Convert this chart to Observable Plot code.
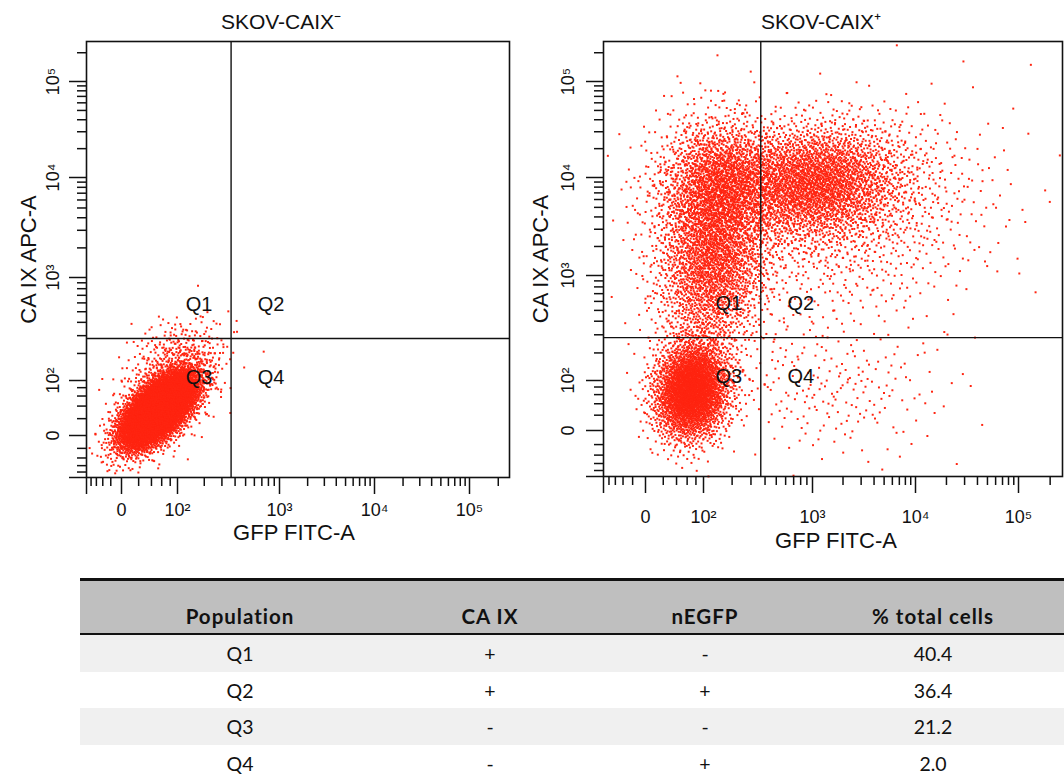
<!DOCTYPE html>
<html>
<head>
<meta charset="utf-8">
<script src="https://cdn.jsdelivr.net/npm/d3@7"></script>
<script src="https://cdn.jsdelivr.net/npm/@observablehq/plot@0.6"></script>
<style>
  body { margin: 0; background: #fff; }
  #wrap { position: relative; width: 1064px; height: 779px; overflow: hidden; background: #fff; }
  #wrap svg { position: absolute; left: 0; top: 0; }
  #tbl { position: absolute; left: 80px; top: 578px; border-collapse: collapse; table-layout: fixed;
         font-family: Lato, "Open Sans", sans-serif; font-size: 19.5px; color: #111; }
  #tbl th { background: #bfbfbf; font-weight: bold; font-size: 20.5px; letter-spacing: 1px; height: 47px; vertical-align: bottom; padding: 0 0 5px 0;
            border-top: 3px solid #111; border-bottom: 2px solid #111; text-align: center; }
  #tbl td { height: 36.7px; padding: 0; text-align: center; vertical-align: middle; }
  #tbl tr.odd td { background: #f0f0f0; }
</style>
</head>
<body>
<div id="wrap"></div>
<script>
// ---------- axis definitions (biexponential display) ----------
const breaks = [-100, 0, 100, 1000, 10000, 100000, 262144];
const majorTicks = [-100, 0, 100, 1000, 10000, 100000];
const tickValues = [0, 100, 1000, 10000, 100000];
const tickLabels = ["0", "10²", "10³", "10⁴", "10⁵"];
const minorTicks = [-80, -60, -40, -20, 20, 40, 60, 80,
  200, 300, 400, 500, 600, 700, 800, 900,
  2000, 3000, 4000, 5000, 6000, 7000, 8000, 9000,
  20000, 30000, 40000, 50000, 60000, 70000, 80000, 90000, 200000];

// ---------- gates ----------
const gateFITC = 367;
const gateAPC = 282;
const quadrantNames = ["Q1", "Q2", "Q3", "Q4"];

// ---------- SKOV-CAIX- event populations (centres in data units, spreads in decades) ----------
const negCentreFITC = [53, 70, 94];
const negCentreAPC = [33, 61, 191];
const negSpreadFITC = [0.19, 0.28, 0.25];
const negSpreadAPC = [0.18, 0.28, 0.20];
const negCorr = [0.62, 0.5, 0.3];
const negCount = [8000, 700, 220];

// ---------- SKOV-CAIX+ event populations ----------
const posCentreFITC = [70, 130, 153, 92, 1000, 2366, 1508];
const posCentreAPC = [70, 1400, 9325, 5865, 8800, 3679, 70];
const posSpreadFITC = [0.18, 0.27, 0.27, 0.30, 0.45, 0.72, 0.58];
const posSpreadAPC = [0.25, 0.50, 0.30, 0.50, 0.30, 0.55, 0.35];
const posCorr = [0.1, 0.15, 0.1, 0.0, 0.1, 0.2, 0.0];
const posCount = [2800, 2200, 1200, 600, 2800, 900, 220];

// ---------- table ----------
const tableHeaders = ["Population", "CA IX", "nEGFP", "% total cells"];
const tablePopulation = ["Q1", "Q2", "Q3", "Q4"];
const tableCAIX = ["+", "+", "-", "-"];
const tableNEGFP = ["-", "+", "-", "+"];
const tablePercent = ["40.4", "36.4", "21.2", "2.0"];

// ---------- helpers ----------
function halton(i, b) { let f = 1, r = 0; while (i > 0) { f /= b; r += f * (i % b); i = Math.floor(i / b); } return r; }
function qnorm(p) {
  const a = [-3.969683028665376e+01, 2.209460984245205e+02, -2.759285104469687e+02, 1.383577518672690e+02, -3.066479806614716e+01, 2.506628277459239e+00];
  const b = [-5.447609879822406e+01, 1.615858368580409e+02, -1.556989798598866e+02, 6.680131188771972e+01, -1.328068155288572e+01];
  const c = [-7.784894002430293e-03, -3.223964580411365e-01, -2.400758277161838e+00, -2.549732539343734e+00, 4.374664141464968e+00, 2.938163982698783e+00];
  const d = [7.784695709041462e-03, 3.224671290700398e-01, 2.445134137142996e+00, 3.754408661907416e+00];
  const pl = 0.02425, ph = 1 - pl;
  if (p < pl) { const q = Math.sqrt(-2 * Math.log(p)); return (((((c[0]*q+c[1])*q+c[2])*q+c[3])*q+c[4])*q+c[5]) / ((((d[0]*q+d[1])*q+d[2])*q+d[3])*q+1); }
  if (p > ph) { const q = Math.sqrt(-2 * Math.log(1 - p)); return -(((((c[0]*q+c[1])*q+c[2])*q+c[3])*q+c[4])*q+c[5]) / ((((d[0]*q+d[1])*q+d[2])*q+d[3])*q+1); }
  const q = p - 0.5, r = q * q;
  return (((((a[0]*r+a[1])*r+a[2])*r+a[3])*r+a[4])*r+a[5])*q / (((((b[0]*r+b[1])*r+b[2])*r+b[3])*r+b[4])*r+1);
}
function events(cx, cy, sdx, sdy, rho, n, sx, sy) {
  const dX = sx.apply(1e4) - sx.apply(1e3);
  const dY = sy.apply(1e3) - sy.apply(1e4);
  const out = [];
  let k = 1;
  for (let c = 0; c < cx.length; c++) {
    const px0 = sx.apply(cx[c]), py0 = sy.apply(cy[c]);
    for (let j = 0; j < n[c]; j++, k++) {
      const z1 = qnorm(halton(k, 2)), z2 = qnorm(halton(k, 3));
      const px = px0 + sdx[c] * dX * z1;
      const py = py0 - sdy[c] * dY * (rho[c] * z1 + Math.sqrt(1 - rho[c] * rho[c]) * z2);
      const x = sx.invert(px), y = sy.invert(py);
      if (x > breaks[0] && x < breaks[6] && y > breaks[0] && y < breaks[6]) out.push({x, y});
    }
  }
  return out;
}

function quadText(name, dx, dy) {
  return Plot.text([name], {x: () => gateFITC, y: () => gateAPC, text: d => d, dx, dy,
    fontSize: 20, fill: "#111", lineAnchor: "middle", textAnchor: "middle"});
}

function panel(p) {
  const xo = {type: "symlog", constant: 50, domain: breaks, range: p.xr};
  const yo = {type: "symlog", constant: 50, domain: breaks, range: p.yr};
  const sx = Plot.scale({x: xo}), sy = Plot.scale({y: yo});
  const pts = events(p.cx, p.cy, p.sdx, p.sdy, p.rho, p.n, sx, sy);
  const H = 570;
  return Plot.plot({
    width: 1064, height: H,
    marginLeft: p.xr[0], marginRight: 1064 - p.xr[6],
    marginTop: p.yr[6], marginBottom: H - p.yr[0],
    x: xo, y: yo,
    style: {background: "transparent", fontFamily: "'Liberation Sans', Arial, sans-serif", color: "#111"},
    marks: [
      Plot.dot(pts, {x: "x", y: "y", r: 1.12, symbol: "square", fill: "#ff2410"}),
      Plot.ruleX([gateFITC], {stroke: "#111", strokeWidth: 1.4}),
      Plot.ruleY([gateAPC], {stroke: "#111", strokeWidth: 1.4}),
      Plot.frame({stroke: "#111", strokeWidth: 1.6}),
      quadText(quadrantNames[0], -32, -34),
      quadText(quadrantNames[1], 40, -34),
      quadText(quadrantNames[2], -32, 39),
      quadText(quadrantNames[3], 40, 39),
      Plot.axisX({ticks: majorTicks, tickSize: 17, tickFormat: () => "", label: null, strokeWidth: 1.5}),
      Plot.axisX({ticks: minorTicks, tickSize: 9, tickFormat: () => "", label: null, strokeWidth: 1.5}),
      Plot.axisY({ticks: majorTicks, tickSize: 17, tickFormat: () => "", label: null, strokeWidth: 1.5}),
      Plot.axisY({ticks: minorTicks, tickSize: 9, tickFormat: () => "", label: null, strokeWidth: 1.5}),
      Plot.text(tickValues, {x: d => d, text: (d, i) => tickLabels[i], frameAnchor: "bottom", dy: p.tickDy,
        lineAnchor: "middle", textAnchor: "middle", fontSize: 18, fill: "#111"}),
      Plot.text(tickValues, {y: d => d, text: (d, i) => tickLabels[i], frameAnchor: "left", dx: p.tickDx, rotate: -90,
        lineAnchor: "middle", textAnchor: "middle", fontSize: 18, fill: "#111"}),
      Plot.text([p.title], {frameAnchor: "top", dx: p.titleDx, dy: -19, lineAnchor: "middle", textAnchor: "middle",
        fontSize: 21, fill: "#111"}),
      Plot.text(["GFP FITC-A"], {frameAnchor: "bottom", dx: p.xlabDx, dy: p.xlabDy, lineAnchor: "middle", textAnchor: "middle",
        fontSize: 22, fill: "#111"}),
      Plot.text(["CA IX APC-A"], {frameAnchor: "left", dx: p.ylabDx, rotate: -90, lineAnchor: "middle", textAnchor: "middle",
        fontSize: 22, fill: "#111"})
    ]
  });
}

const wrap = document.getElementById("wrap");

const left = panel({
  xr: [86, 121, 177, 279, 374, 469, 509],
  yr: [477, 435, 380, 277, 177, 81, 41],
  cx: negCentreFITC, cy: negCentreAPC, sdx: negSpreadFITC, sdy: negSpreadAPC, rho: negCorr, n: negCount,
  title: "SKOV-CAIX⁻", titleDx: -17, tickDy: 33, tickDx: -33, xlabDx: -4, xlabDy: 55, ylabDx: -58
});
const right = panel({
  xr: [603, 645, 703, 812, 915, 1018, 1062],
  yr: [476, 430, 380, 275, 177, 81, 41],
  cx: posCentreFITC, cy: posCentreAPC, sdx: posSpreadFITC, sdy: posSpreadAPC, rho: posCorr, n: posCount,
  title: "SKOV-CAIX⁺", titleDx: -12, tickDy: 41, tickDx: -35, xlabDx: 3, xlabDy: 64, ylabDx: -63
});
wrap.appendChild(left);
wrap.appendChild(right);

// ---------- table ----------
const table = document.createElement("table");
table.id = "tbl";
const colW = [320, 180, 250, 206, 28];
const cg = document.createElement("colgroup");
for (const w of colW) { const c = document.createElement("col"); c.style.width = w + "px"; cg.appendChild(c); }
table.appendChild(cg);
const hr = document.createElement("tr");
for (const h of [...tableHeaders, ""]) { const th = document.createElement("th"); th.textContent = h; hr.appendChild(th); }
table.appendChild(hr);
tablePopulation.forEach((q, i) => {
  const tr = document.createElement("tr");
  if (i % 2 === 0) tr.className = "odd";
  for (const v of [q, tableCAIX[i], tableNEGFP[i], tablePercent[i], ""]) { const td = document.createElement("td"); td.textContent = v; tr.appendChild(td); }
  table.appendChild(tr);
});
wrap.appendChild(table);
</script>
</body>
</html>
